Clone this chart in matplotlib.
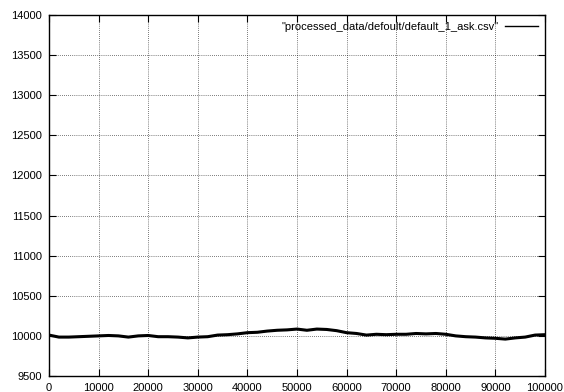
import matplotlib
matplotlib.use("Agg")
import matplotlib.pyplot as plt

# values (every 2000 samples)
x_vals = list(range(0, 100001, 2000))
y_vals = [10010, 9985, 9985, 9990, 9995, 10000, 10005, 10000, 9985, 10000,
          10005, 9990, 9990, 9985, 9975, 9985, 9990, 10010, 10015, 10025,
          10040, 10045, 10060, 10070, 10075, 10085, 10070, 10085, 10080, 10065,
          10040, 10030, 10010, 10020, 10015, 10020, 10020, 10030, 10025, 10030,
          10020, 10000, 9990, 9985, 9975, 9970, 9960, 9975, 9985, 10010,
          10015]
x_ticks = list(range(0, 100001, 10000))
y_ticks = list(range(9500, 14001, 500))
series_label = '"processed_data/defoult/default_1_ask.csv"'

plt.rcParams['font.family'] = ['Liberation Sans', 'DejaVu Sans']
plt.rcParams['font.size'] = 8

fig = plt.figure(figsize=(5.64, 3.92), dpi=100)
ax = fig.add_axes([49 / 564, 16 / 392, 496 / 564, 361 / 392])

ax.plot(x_vals, y_vals, color='black', linewidth=2.2, label=series_label)

ax.set_xlim(0, 100000)
ax.set_ylim(9500, 14000)
ax.set_xticks(x_ticks)
ax.set_yticks(y_ticks)
ax.tick_params(direction='in', length=5, width=0.8, top=True, right=True,
               labelsize=8, pad=5)
ax.grid(True, color='black', linestyle=(0, (1, 2)), linewidth=0.5)
for s in ax.spines.values():
    s.set_linewidth(1.0)

leg = ax.legend(loc='upper right', frameon=False, markerfirst=False,
                handlelength=3.0, fontsize=8, borderaxespad=0.2,
                handletextpad=0.6)
for h in leg.legend_handles:
    h.set_linewidth(1.0)

fig.savefig("out.png", dpi=100)
